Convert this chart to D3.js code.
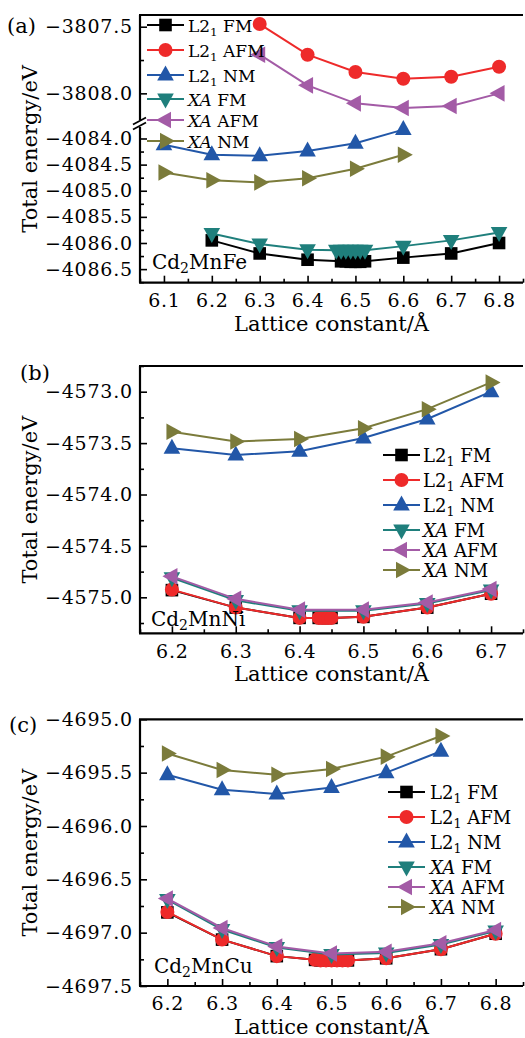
<!DOCTYPE html>
<html>
<head>
<meta charset="utf-8">
<script src="https://cdn.jsdelivr.net/npm/d3@7"></script>
<style>
  body { margin: 0; background: #fff; }
  text { font-family: "DejaVu Serif", serif; fill: #000; }
</style>
</head>
<body>
<script>
// ---- series styling (legend order) ----
var seriesPrefix = ["L2", "L2", "L2", "XA", "XA", "XA"];
var seriesSuffix = ["FM", "AFM", "NM", "FM", "AFM", "NM"];
var seriesColors = ["#000000", "#ee2a2a", "#2257a8", "#1f7f7c", "#a35ba6", "#7b7b3b"];
var seriesShapes = ["square", "circle", "up", "down", "left", "right"];

// ---- (a) Cd2MnFe ----
var aFM_x   = [6.2, 6.3, 6.4, 6.47, 6.48, 6.49, 6.5, 6.51, 6.52, 6.6, 6.7, 6.8];
var aFM_y   = [-4085.95, -4086.2, -4086.32, -4086.35, -4086.35, -4086.36, -4086.36, -4086.36, -4086.35, -4086.28, -4086.2, -4086.0];
var aAFM_x  = [6.3, 6.4, 6.5, 6.6, 6.7, 6.8];
var aAFM_y  = [-3807.48, -3807.71, -3807.84, -3807.89, -3807.875, -3807.8];
var aNM_x   = [6.1, 6.2, 6.3, 6.4, 6.5, 6.6];
var aNM_y   = [-4084.12, -4084.31, -4084.33, -4084.24, -4084.09, -4083.83];
var aXFM_x  = [6.2, 6.3, 6.4, 6.46, 6.47, 6.48, 6.49, 6.5, 6.51, 6.52, 6.6, 6.7, 6.8];
var aXFM_y  = [-4085.82, -4086.02, -4086.13, -4086.14, -4086.14, -4086.14, -4086.14, -4086.14, -4086.14, -4086.14, -4086.06, -4085.95, -4085.8];
var aXAFM_x = [6.3, 6.4, 6.5, 6.6, 6.7, 6.8];
var aXAFM_y = [-3807.71, -3807.94, -3808.075, -3808.11, -3808.095, -3808.0];
var aXNM_x  = [6.1, 6.2, 6.3, 6.4, 6.5, 6.6];
var aXNM_y  = [-4084.65, -4084.8, -4084.84, -4084.76, -4084.58, -4084.31];

// ---- (b) Cd2MnNi ----
var bFM_x   = [6.2, 6.3, 6.4, 6.43, 6.435, 6.44, 6.445, 6.45, 6.5, 6.6, 6.7];
var bFM_y   = [-4574.93, -4575.1, -4575.2, -4575.2, -4575.2, -4575.2, -4575.2, -4575.2, -4575.19, -4575.1, -4574.965];
var bAFM_x  = [6.2, 6.3, 6.4, 6.43, 6.435, 6.44, 6.445, 6.45, 6.5, 6.6, 6.7];
var bAFM_y  = [-4574.925, -4575.1, -4575.2, -4575.2, -4575.2, -4575.2, -4575.2, -4575.2, -4575.19, -4575.1, -4574.965];
var bNM_x   = [6.2, 6.3, 6.4, 6.5, 6.6, 6.7];
var bNM_y   = [-4573.55, -4573.615, -4573.58, -4573.45, -4573.265, -4573.0];
var bXFM_x  = [6.2, 6.3, 6.4, 6.5, 6.6, 6.7];
var bXFM_y  = [-4574.81, -4575.03, -4575.13, -4575.13, -4575.06, -4574.93];
var bXAFM_x = [6.2, 6.3, 6.4, 6.5, 6.6, 6.7];
var bXAFM_y = [-4574.796, -4575.015, -4575.12, -4575.12, -4575.05, -4574.92];
var bXNM_x  = [6.2, 6.3, 6.4, 6.5, 6.6, 6.7];
var bXNM_y  = [-4573.39, -4573.485, -4573.46, -4573.355, -4573.17, -4572.91];

// ---- (c) Cd2MnCu ----
var cFM_x   = [6.2, 6.3, 6.4, 6.47, 6.48, 6.49, 6.5, 6.51, 6.52, 6.53, 6.6, 6.7, 6.8];
var cFM_y   = [-4696.81, -4697.065, -4697.22, -4697.255, -4697.26, -4697.26, -4697.26, -4697.26, -4697.26, -4697.26, -4697.24, -4697.155, -4697.01];
var cAFM_x  = [6.2, 6.3, 6.4, 6.47, 6.48, 6.49, 6.5, 6.51, 6.52, 6.53, 6.6, 6.7, 6.8];
var cAFM_y  = [-4696.806, -4697.065, -4697.22, -4697.255, -4697.26, -4697.26, -4697.26, -4697.26, -4697.26, -4697.26, -4697.24, -4697.155, -4697.01];
var cNM_x   = [6.2, 6.3, 6.4, 6.5, 6.6, 6.7];
var cNM_y   = [-4695.52, -4695.66, -4695.7, -4695.64, -4695.5, -4695.3];
var cXFM_x  = [6.2, 6.3, 6.4, 6.5, 6.6, 6.7, 6.8];
var cXFM_y  = [-4696.69, -4696.97, -4697.14, -4697.205, -4697.19, -4697.11, -4696.985];
var cXAFM_x = [6.2, 6.3, 6.4, 6.5, 6.6, 6.7, 6.8];
var cXAFM_y = [-4696.68, -4696.956, -4697.13, -4697.196, -4697.18, -4697.1, -4696.975];
var cXNM_x  = [6.2, 6.3, 6.4, 6.5, 6.6, 6.7];
var cXNM_y  = [-4695.32, -4695.475, -4695.52, -4695.466, -4695.35, -4695.157];

var W = 525, H = 1038;
var L = 140, R = 523;
var fmt = d3.format(".1f");

var svg = d3.select("body").append("svg")
    .attr("width", W)
    .attr("height", H);

var panels = [
    {
        tag: "(a)", tagX: 7, tagY: 33,
        compound: ["Cd", "2", "MnFe"], compX: 152, compY: 269,
        xDomain: [6.05, 6.85],
        top: 15, bottom: 282.7,
        segments: [
            {domain: [-3808.2, -3807.412], y0: 15, y1: 120},
            {domain: [-4086.76, -4083.78], y0: 127, y1: 282.7}
        ],
        series: [
            {x: aFM_x, y: aFM_y, seg: 1},
            {x: aAFM_x, y: aAFM_y, seg: 0},
            {x: aNM_x, y: aNM_y, seg: 1},
            {x: aXFM_x, y: aXFM_y, seg: 1},
            {x: aXAFM_x, y: aXAFM_y, seg: 0},
            {x: aXNM_x, y: aXNM_y, seg: 1}
        ],
        legend: {x0: 147, x1: 184, tx: 188, size: 17, rows: [25, 50, 75, 99, 120, 141]}
    },
    {
        tag: "(b)", tagX: 20, tagY: 380,
        compound: ["Cd", "2", "MnNi"], compX: 151, compY: 626,
        xDomain: [6.15, 6.75],
        top: 366, bottom: 633.3,
        segments: [{domain: [-4575.35, -4572.75], y0: 366, y1: 633.3}],
        series: [
            {x: bFM_x, y: bFM_y, seg: 0},
            {x: bAFM_x, y: bAFM_y, seg: 0},
            {x: bNM_x, y: bNM_y, seg: 0},
            {x: bXFM_x, y: bXFM_y, seg: 0},
            {x: bXAFM_x, y: bXAFM_y, seg: 0},
            {x: bXNM_x, y: bXNM_y, seg: 0}
        ],
        legend: {x0: 383, x1: 420, tx: 423, size: 18, rows: [455, 480, 505, 530, 550, 570]}
    },
    {
        tag: "(c)", tagX: 9, tagY: 732,
        compound: ["Cd", "2", "MnCu"], compX: 154, compY: 973,
        xDomain: [6.15, 6.85],
        top: 719.3, bottom: 986,
        segments: [{domain: [-4697.5, -4695.0], y0: 719.3, y1: 986}],
        series: [
            {x: cFM_x, y: cFM_y, seg: 0},
            {x: cAFM_x, y: cAFM_y, seg: 0},
            {x: cNM_x, y: cNM_y, seg: 0},
            {x: cXFM_x, y: cXFM_y, seg: 0},
            {x: cXAFM_x, y: cXAFM_y, seg: 0},
            {x: cXNM_x, y: cXNM_y, seg: 0}
        ],
        legend: {x0: 388, x1: 425, tx: 430, size: 18, rows: [792, 817, 842, 867, 887, 907]}
    }
];

// values on a regular step inside [lo, hi]
function stepValues(lo, hi, step) {
    var out = [];
    for (var k = Math.ceil(lo / step - 1e-6); k * step <= hi + 1e-6; k++) {
        out.push(+(k * step).toFixed(3));
    }
    return out;
}
function minorsOf(lo, hi, step) {
    return stepValues(lo, hi, step / 2).filter(function(v) {
        return Math.abs(v / step - Math.round(v / step)) > 1e-6;
    });
}

function drawMarker(g, shape, color, cx, cy) {
    if (shape == "square") {
        g.append("rect")
            .attr("x", cx - 6.3).attr("y", cy - 6.3)
            .attr("width", 12.6).attr("height", 12.6)
            .attr("fill", color);
    } else if (shape == "circle") {
        g.append("circle")
            .attr("cx", cx).attr("cy", cy).attr("r", 7)
            .attr("fill", color);
    } else {
        var rot = {up: 0, right: 90, down: 180, left: -90}[shape];
        g.append("path")
            .attr("d", "M0,-9.5L8.3,5.5L-8.3,5.5Z")
            .attr("transform", "translate(" + cx + "," + cy + ") rotate(" + rot + ")")
            .attr("fill", color);
    }
}

function seriesLabel(t, i, size) {
    if (seriesPrefix[i] == "L2") {
        t.append("tspan").text("L2");
        t.append("tspan").text("1").attr("font-size", size * 0.7).attr("dy", 4);
        t.append("tspan").text("\u00a0" + seriesSuffix[i]).attr("dy", -4);
    } else {
        t.append("tspan").text("XA").attr("font-style", "italic");
        t.append("tspan").text("\u00a0" + seriesSuffix[i]);
    }
}

function drawPanel(p) {
    var g = svg.append("g");
    var x = d3.scaleLinear().domain(p.xDomain).range([L, R]);
    var yScales = p.segments.map(function(s) {
        return d3.scaleLinear().domain(s.domain).range([s.y1, s.y0]);
    });

    // x axis (ticks point inward)
    var xMaj = stepValues(p.xDomain[0], p.xDomain[1], 0.1);
    var xMin = minorsOf(p.xDomain[0], p.xDomain[1], 0.1);
    g.append("g").attr("transform", "translate(0," + p.bottom + ")")
        .call(d3.axisBottom(x).tickValues(xMaj).tickFormat(fmt).tickSize(-7).tickPadding(11).tickSizeOuter(0));
    g.append("g").attr("transform", "translate(0," + p.bottom + ")")
        .call(d3.axisBottom(x).tickValues(xMin).tickFormat("").tickSize(-4).tickSizeOuter(0));

    // y axis, one piece per segment
    p.segments.forEach(function(s, k) {
        var ys = yScales[k];
        var yMaj = stepValues(s.domain[0], s.domain[1], 0.5);
        var yMin = minorsOf(s.domain[0], s.domain[1], 0.5);
        g.append("g").attr("transform", "translate(" + L + ",0)")
            .call(d3.axisLeft(ys).tickValues(yMaj).tickFormat(fmt).tickSize(-7).tickPadding(7).tickSizeOuter(0));
        g.append("g").attr("transform", "translate(" + L + ",0)")
            .call(d3.axisLeft(ys).tickValues(yMin).tickFormat("").tickSize(-4).tickSizeOuter(0));
        g.append("line")
            .attr("x1", L).attr("x2", L)
            .attr("y1", s.y0).attr("y2", s.y1)
            .attr("stroke", "#000").attr("stroke-width", 2.2);
    });

    g.selectAll(".domain").remove();
    g.selectAll(".tick line").attr("stroke", "#000").attr("stroke-width", 1.6);
    g.selectAll(".tick text")
        .attr("font-family", "DejaVu Serif")
        .attr("font-size", 19)
        .attr("letter-spacing", 0.8)
        .attr("fill", "#111");

    // break marks
    if (p.segments.length > 1) {
        var gapMid = (p.segments[0].y1 + p.segments[1].y0) / 2;
        [-2.5, 2.5].forEach(function(o) {
            g.append("line")
                .attr("x1", L - 7).attr("y1", gapMid + o + 3.5)
                .attr("x2", L + 6).attr("y2", gapMid + o - 3.5)
                .attr("stroke", "#000").attr("stroke-width", 1.8);
        });
    }

    // frame: bottom and top
    g.append("line").attr("x1", L - 1).attr("x2", R)
        .attr("y1", p.bottom).attr("y2", p.bottom)
        .attr("stroke", "#000").attr("stroke-width", 2.2);
    g.append("line").attr("x1", L - 1).attr("x2", R)
        .attr("y1", p.top).attr("y2", p.top)
        .attr("stroke", "#000").attr("stroke-width", 2.2);

    // series
    p.series.forEach(function(s, i) {
        var ys = yScales[s.seg];
        var pts = s.x.map(function(v, j) { return [v, s.y[j]]; });
        var line = d3.line()
            .x(function(d) { return x(d[0]); })
            .y(function(d) { return ys(d[1]); });
        g.append("path")
            .attr("d", line(pts))
            .attr("fill", "none")
            .attr("stroke", seriesColors[i])
            .attr("stroke-width", 2);
        var mg = g.append("g");
        pts.forEach(function(d) {
            drawMarker(mg, seriesShapes[i], seriesColors[i], x(d[0]), ys(d[1]));
        });
    });

    // legend
    var lg = p.legend;
    lg.rows.forEach(function(ry, i) {
        g.append("line")
            .attr("x1", lg.x0).attr("x2", lg.x1)
            .attr("y1", ry).attr("y2", ry)
            .attr("stroke", seriesColors[i]).attr("stroke-width", 2);
        drawMarker(g, seriesShapes[i], seriesColors[i], (lg.x0 + lg.x1) / 2, ry);
        var t = g.append("text")
            .attr("x", lg.tx).attr("y", ry + 6.5)
            .attr("font-size", lg.size);
        seriesLabel(t, i, lg.size);
    });

    // panel tag and compound name
    g.append("text").attr("x", p.tagX).attr("y", p.tagY)
        .attr("font-size", 21).text(p.tag);
    var ct = g.append("text").attr("x", p.compX).attr("y", p.compY)
        .attr("font-size", 20);
    ct.append("tspan").text(p.compound[0]);
    ct.append("tspan").text(p.compound[1]).attr("font-size", 14).attr("dy", 4);
    ct.append("tspan").text(p.compound[2]).attr("dy", -4);

    // axis titles
    g.append("text")
        .attr("transform", "translate(37," + ((p.top + p.bottom) / 2) + ") rotate(-90)")
        .attr("text-anchor", "middle")
        .attr("font-size", 21)
        .text("Total energy/eV");
    g.append("text")
        .attr("x", (L + R) / 2).attr("y", p.bottom + 48)
        .attr("text-anchor", "middle")
        .attr("font-size", 21)
        .text("Lattice constant/\u00c5");
}

panels.forEach(drawPanel);
</script>
</body>
</html>
